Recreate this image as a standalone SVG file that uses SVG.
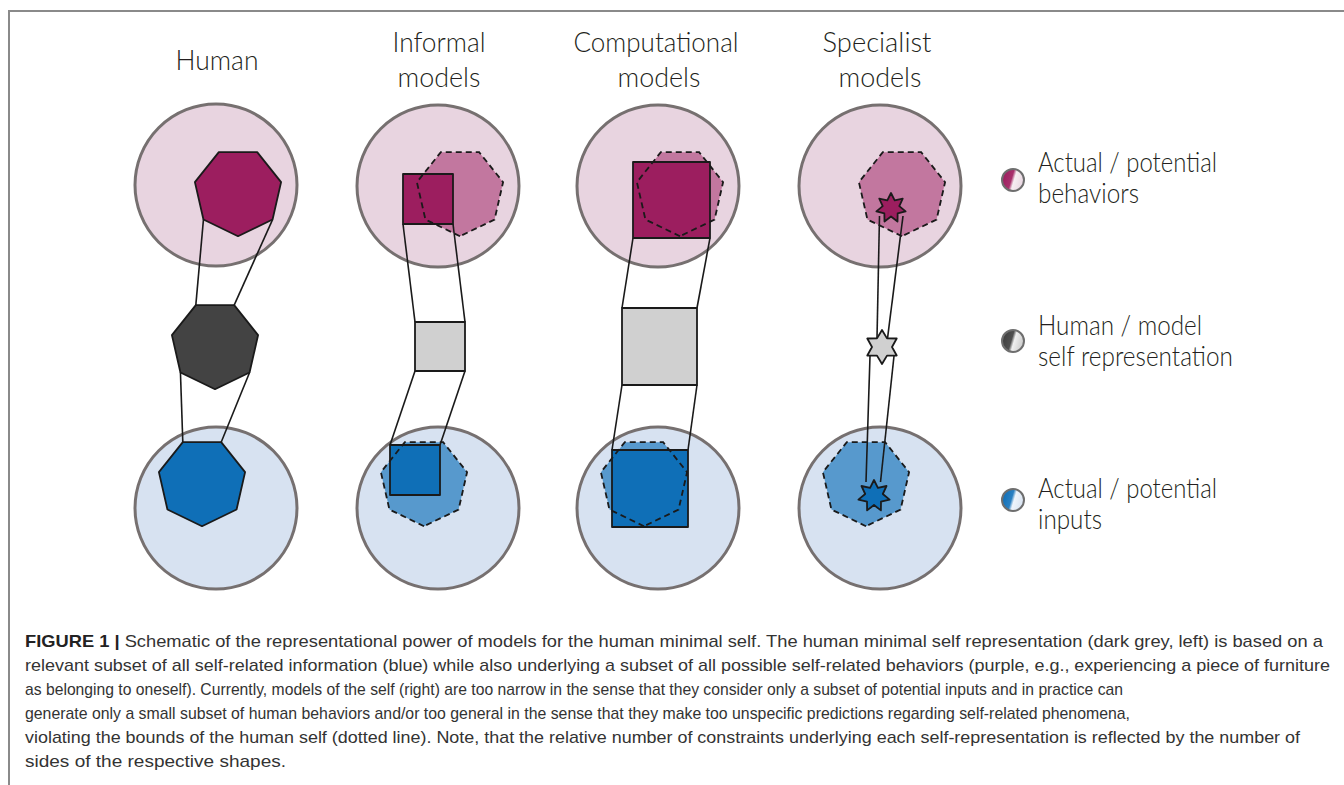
<svg xmlns="http://www.w3.org/2000/svg" width="1344" height="785" viewBox="0 0 1344 785">
<style>
.bg{fill:#ffffff}
.frame{fill:none;stroke:#8a8a8a;stroke-width:2}
.cp{fill:#e8d4e0;stroke:#767070;stroke-width:3}
.cb{fill:#d7e2f1;stroke:#767070;stroke-width:3}
.dp{fill:#9c1e5f;stroke:#1a1a1a;stroke-width:1.8;stroke-linejoin:round}
.lp{fill:#c2779f;stroke:none}
.dg{fill:#434343;stroke:#1a1a1a;stroke-width:1.8;stroke-linejoin:round}
.lg{fill:#d0d0d0;stroke:#1a1a1a;stroke-width:1.8;stroke-linejoin:round}
.db{fill:#0f6fb7;stroke:#1a1a1a;stroke-width:1.8;stroke-linejoin:round}
.lb{fill:#5799cd;stroke:none}
.dash{fill:none;stroke:#1a1a1a;stroke-width:1.8;stroke-dasharray:6 4}
.con line{stroke:#1a1a1a;stroke-width:1.6}
.t{font-family:Lato,"Open Sans","Liberation Sans",sans-serif;font-weight:300;font-size:27px;fill:#231f20}
.cap{font-family:"Liberation Sans",Arial,sans-serif;font-size:17px;fill:#333333}
.lgc{stroke:#6e6e6e;stroke-width:2}
</style>
<defs>
<linearGradient id="gp" x1="0" y1="0.35" x2="1" y2="0.65">
<stop offset="0" stop-color="#9c1e5f"/><stop offset="0.42" stop-color="#a8306c"/><stop offset="0.55" stop-color="#f6eef2"/><stop offset="1" stop-color="#e8d4e0"/>
</linearGradient>
<linearGradient id="gg" x1="0" y1="0.35" x2="1" y2="0.65">
<stop offset="0" stop-color="#3e3e3e"/><stop offset="0.42" stop-color="#505050"/><stop offset="0.55" stop-color="#f0f0f0"/><stop offset="1" stop-color="#c8c8c8"/>
</linearGradient>
<linearGradient id="gb" x1="0" y1="0.35" x2="1" y2="0.65">
<stop offset="0" stop-color="#0f6fb7"/><stop offset="0.42" stop-color="#2a80c2"/><stop offset="0.55" stop-color="#eef4fb"/><stop offset="1" stop-color="#d7e2f1"/>
</linearGradient>
</defs>
<rect class="bg" x="0" y="0" width="1344" height="785"/>
<path class="frame" d="M9,785 V11 H1344"/>

<g id="titles">
<text class="t" x="217" y="70" text-anchor="middle" textLength="83" lengthAdjust="spacingAndGlyphs">Human</text>
<text class="t" x="439" y="52" text-anchor="middle" textLength="93" lengthAdjust="spacingAndGlyphs">Informal</text>
<text class="t" x="439" y="87" text-anchor="middle" textLength="83" lengthAdjust="spacingAndGlyphs">models</text>
<text class="t" x="656" y="52" text-anchor="middle" textLength="165" lengthAdjust="spacingAndGlyphs">Computational</text>
<text class="t" x="659" y="87" text-anchor="middle" textLength="83" lengthAdjust="spacingAndGlyphs">models</text>
<text class="t" x="877" y="52" text-anchor="middle" textLength="109" lengthAdjust="spacingAndGlyphs">Specialist</text>
<text class="t" x="880" y="87" text-anchor="middle" textLength="83" lengthAdjust="spacingAndGlyphs">models</text>
</g>

<g id="circles">
<circle id="human-behaviors" class="cp" cx="216" cy="185" r="81"/>
<circle id="human-inputs" class="cb" cx="216" cy="508" r="81"/>
<circle id="informal-behaviors" class="cp" cx="438" cy="186" r="81"/>
<circle id="informal-inputs" class="cb" cx="438" cy="508" r="81"/>
<circle id="computational-behaviors" class="cp" cx="658" cy="186" r="81"/>
<circle id="computational-inputs" class="cb" cx="658" cy="508" r="81"/>
<circle id="specialist-behaviors" class="cp" cx="880" cy="186" r="81"/>
<circle id="specialist-inputs" class="cb" cx="880" cy="508" r="81"/>
</g>

<g id="human-bounds-fill">
<polygon class="lp" points="460,236.2 425.44,219.56 416.91,182.16 440.82,152.18 479.18,152.18 503.09,182.16 494.56,219.56"/>
<polygon class="lb" points="424,526.2 389.44,509.56 380.91,472.16 404.82,442.18 443.18,442.18 467.09,472.16 458.56,509.56"/>
<polygon class="lp" points="680,236.2 645.44,219.56 636.91,182.16 660.82,152.18 699.18,152.18 723.09,182.16 714.56,219.56"/>
<polygon class="lb" points="644,526.2 609.44,509.56 600.91,472.16 624.82,442.18 663.18,442.18 687.09,472.16 678.56,509.56"/>
<polygon class="lp" points="902,236.2 867.44,219.56 858.91,182.16 882.82,152.18 921.18,152.18 945.09,182.16 936.56,219.56"/>
<polygon class="lb" points="866,526.2 831.44,509.56 822.91,472.16 846.82,442.18 885.18,442.18 909.09,472.16 900.56,509.56"/>
</g>

<g id="connectors" class="con">
<line x1="203.44" y1="219.56" x2="195.82" y2="305.18"/>
<line x1="272.56" y1="219.56" x2="234.18" y2="305.18"/>
<line x1="180.44" y1="372.56" x2="182.82" y2="442.18"/>
<line x1="249.56" y1="372.56" x2="221.18" y2="442.18"/>
<line x1="403" y1="224" x2="415" y2="322"/>
<line x1="453" y1="224" x2="465" y2="322"/>
<line x1="415" y1="371" x2="390" y2="445"/>
<line x1="465" y1="371" x2="440" y2="445"/>
<line x1="633" y1="238" x2="622" y2="308"/>
<line x1="710" y1="238" x2="697" y2="308"/>
<line x1="622" y1="385" x2="612" y2="450"/>
<line x1="697" y1="385" x2="688" y2="450"/>
<line x1="879.5" y1="216" x2="877" y2="338.3"/>
<line x1="903" y1="216" x2="887.5" y2="338.3"/>
<line x1="870" y1="356" x2="866" y2="482"/>
<line x1="894" y1="356" x2="880.5" y2="482"/>
</g>

<g id="human">
<polygon class="dp" points="238,236.2 203.44,219.56 194.91,182.16 218.82,152.18 257.18,152.18 281.09,182.16 272.56,219.56"/>
<polygon class="dg" points="215,389.2 180.44,372.56 171.91,335.16 195.82,305.18 234.18,305.18 258.09,335.16 249.56,372.56"/>
<polygon class="db" points="202,526.2 167.44,509.56 158.91,472.16 182.82,442.18 221.18,442.18 245.09,472.16 236.56,509.56"/>
</g>

<g id="informal">
<rect class="dp" x="403" y="174" width="50" height="50"/>
<rect class="lg" x="415" y="322" width="50" height="49"/>
<rect class="db" x="390" y="445" width="50" height="50"/>
</g>

<g id="computational">
<rect class="dp" x="633" y="162" width="77" height="76"/>
<rect class="lg" x="622" y="308" width="75" height="77"/>
<rect class="db" x="612" y="450" width="76" height="77"/>
</g>

<g id="specialist">
<polygon class="dp" points="891,193 894.69,200.34 902.73,198.65 899.29,206.11 905.62,211.34 897.65,213.3 897.51,221.52 891,216.5 884.49,221.52 884.35,213.3 876.38,211.34 882.71,206.11 879.27,198.65 887.31,200.34"/>
<polygon class="lg" points="882,330 887,338.34 896.72,338.5 892,347 896.72,355.5 887,355.66 882,364 877,355.66 867.28,355.5 872,347 867.28,338.5 877,338.34"/>
<polygon class="db" points="874,480 877.9,487.9 886.5,486 882.8,494 889.6,499.6 881,501.6 880.9,510.4 874,505 867.1,510.4 867,501.6 858.4,499.6 865.2,494 861.5,486 870.1,487.9"/>
</g>

<g id="human-bounds-outline">
<polygon class="dash" points="460,236.2 425.44,219.56 416.91,182.16 440.82,152.18 479.18,152.18 503.09,182.16 494.56,219.56"/>
<polygon class="dash" points="424,526.2 389.44,509.56 380.91,472.16 404.82,442.18 443.18,442.18 467.09,472.16 458.56,509.56"/>
<polygon class="dash" points="680,236.2 645.44,219.56 636.91,182.16 660.82,152.18 699.18,152.18 723.09,182.16 714.56,219.56"/>
<polygon class="dash" points="644,526.2 609.44,509.56 600.91,472.16 624.82,442.18 663.18,442.18 687.09,472.16 678.56,509.56"/>
<polygon class="dash" points="902,236.2 867.44,219.56 858.91,182.16 882.82,152.18 921.18,152.18 945.09,182.16 936.56,219.56"/>
<polygon class="dash" points="866,526.2 831.44,509.56 822.91,472.16 846.82,442.18 885.18,442.18 909.09,472.16 900.56,509.56"/>
</g>

<g id="legend-behaviors">
<circle class="lgc" cx="1013" cy="180" r="11" fill="url(#gp)"/>
<text class="t" x="1038" y="172" textLength="179" lengthAdjust="spacingAndGlyphs">Actual / potential</text>
<text class="t" x="1038" y="203" textLength="101" lengthAdjust="spacingAndGlyphs">behaviors</text>
</g>
<g id="legend-self">
<circle class="lgc" cx="1013" cy="341" r="11" fill="url(#gg)"/>
<text class="t" x="1038" y="335" textLength="164" lengthAdjust="spacingAndGlyphs">Human / model</text>
<text class="t" x="1038" y="366" textLength="195" lengthAdjust="spacingAndGlyphs">self representation</text>
</g>
<g id="legend-inputs">
<circle class="lgc" cx="1013" cy="500" r="11" fill="url(#gb)"/>
<text class="t" x="1038" y="498" textLength="179" lengthAdjust="spacingAndGlyphs">Actual / potential</text>
<text class="t" x="1038" y="529" textLength="64" lengthAdjust="spacingAndGlyphs">inputs</text>
</g>

<g id="caption">
<text class="cap" x="25" y="647" textLength="1298" lengthAdjust="spacingAndGlyphs"><tspan font-weight="bold" fill="#222">FIGURE 1 |</tspan> Schematic of the representational power of models for the human minimal self. The human minimal self representation (dark grey, left) is based on a</text>
<text class="cap" x="25" y="671" textLength="1305" lengthAdjust="spacingAndGlyphs">relevant subset of all self-related information (blue) while also underlying a subset of all possible self-related behaviors (purple, e.g., experiencing a piece of furniture</text>
<text class="cap" x="25" y="695" textLength="1098" lengthAdjust="spacingAndGlyphs">as belonging to oneself). Currently, models of the self (right) are too narrow in the sense that they consider only a subset of potential inputs and in practice can</text>
<text class="cap" x="25" y="719" textLength="1105" lengthAdjust="spacingAndGlyphs">generate only a small subset of human behaviors and/or too general in the sense that they make too unspecific predictions regarding self-related phenomena,</text>
<text class="cap" x="25" y="743" textLength="1275" lengthAdjust="spacingAndGlyphs">violating the bounds of the human self (dotted line). Note, that the relative number of constraints underlying each self-representation is reflected by the number of</text>
<text class="cap" x="25" y="767" textLength="261" lengthAdjust="spacingAndGlyphs">sides of the respective shapes.</text>
</g>
</svg>
